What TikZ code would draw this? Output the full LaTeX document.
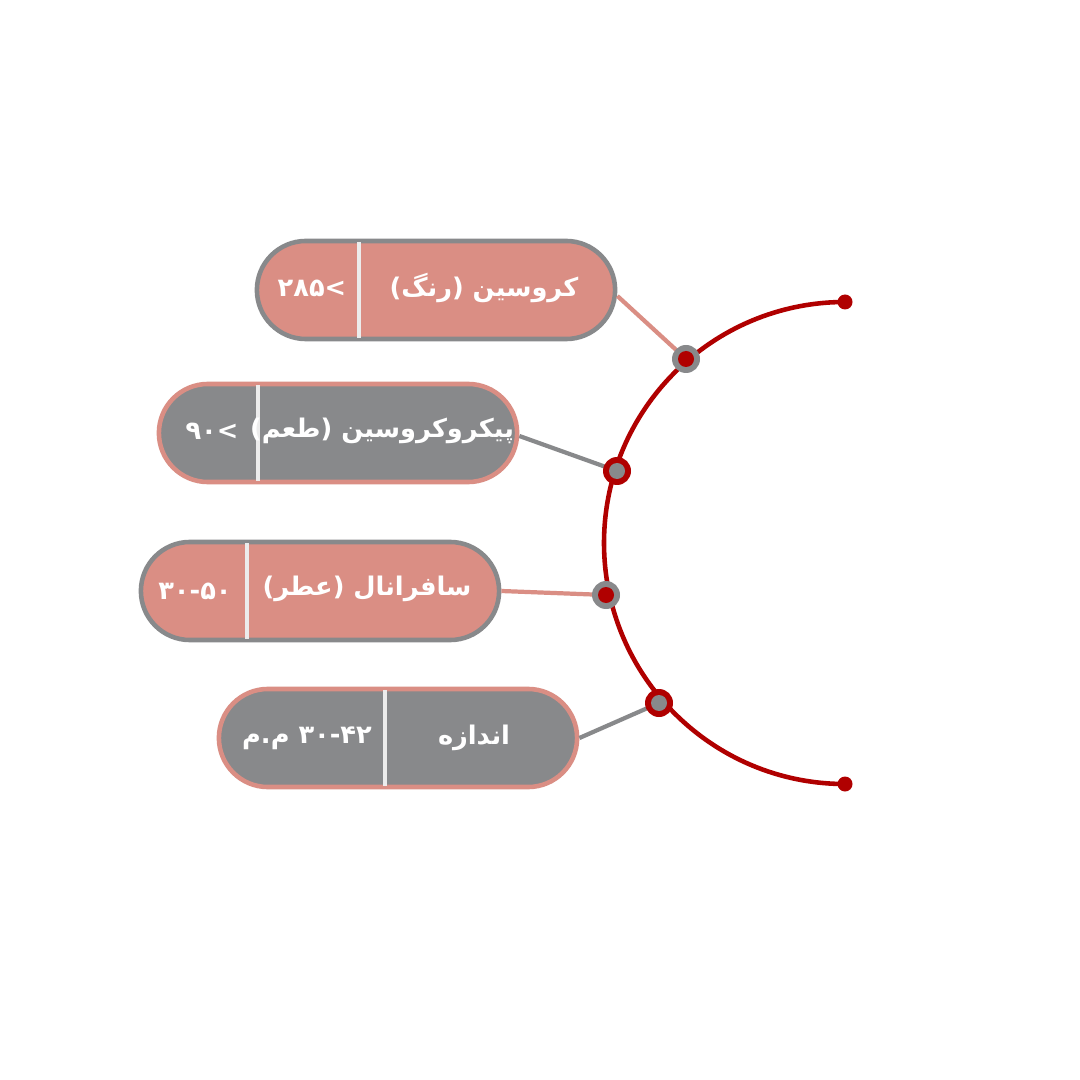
\documentclass[tikz,border=0pt]{standalone}
\usepackage{fontspec}
\newfontfamily\af[Script=Arabic]{DejaVu Sans}
\TeXXeTstate=1
\usetikzlibrary{positioning}
\definecolor{salmon}{HTML}{DA8E84}
\definecolor{slate}{HTML}{88898B}
\definecolor{crimson}{HTML}{B00000}
\begin{document}
\begin{tikzpicture}
    [x=0.01cm,y=-0.01cm,
     pill/.style={rounded corners=0.49cm,minimum width=3.58cm,minimum height=0.98cm,line width=1.3pt,inner sep=0pt},
     txt/.style={text=white,font=\af\bfseries\fontsize{7.3}{9}\selectfont},
     link/.style={line width=1.2pt}]
    \useasboundingbox[fill=white] (0,0) rectangle (1080,1080);

    % arc
    \draw[crimson,line width=1.3pt] (845,302) arc[start angle=-90,end angle=-270,radius=241];
    \fill[crimson] (845,302) circle[radius=7.5] (845,784) circle[radius=7.5];

    % pills
    \node[pill,fill=salmon,draw=slate] (p1) at (436,290) {};
    \node[pill,fill=slate,draw=salmon] (p2) at (338,433) {};
    \node[pill,fill=salmon,draw=slate] (p3) at (320,591) {};
    \node[pill,fill=slate,draw=salmon] (p4) at (398,738) {};
    \draw[white!85!gray,line width=1.3pt] (359,242) -- (359,338) (258,385) -- (258,481)
        (247,543) -- (247,639) (385,690) -- (385,786);

    \node[txt] (l1) at (484,288) {\beginR کروسین (رنگ)\endR};
    \node[txt] (v1) at (312,288) {\beginL >۲۸۵\endL};
    \node[txt] (l2) at (382,431) {\beginR پیکروکروسین (طعم)\endR};
    \node[txt] (v2) at (212,431) {\beginL >۹۰\endL};
    \node[txt] (l3) at (367,589) {\beginR سافرانال (عطر)\endR};
    \node[txt] (v3) at (195,591) {\beginL ۳۰-۵۰\endL};
    \node[txt] (l4) at (474,738) {\beginR اندازه\endR};
    \node[txt] (v4) at (307,738) {\beginL\beginR م.م\endR{} ۳۰-۴۲\endL};

    % markers on the arc
    \coordinate (m1) at (686,359);
    \coordinate (m2) at (617,471);
    \coordinate (m3) at (606,595);
    \coordinate (m4) at (659,703);
    \draw[link,salmon] (p1.east) ++(0,6) -- (m1);
    \draw[link,slate] (p2.east) ++(0,3) -- (m2);
    \draw[link,salmon] (p3.east) -- (m3);
    \draw[link,slate] (p4.east) -- (m4);
    \fill[slate] (m1) circle[radius=14]; \fill[crimson] (m1) circle[radius=8];
    \fill[crimson] (m2) circle[radius=14]; \fill[slate] (m2) circle[radius=8];
    \fill[slate] (m3) circle[radius=14]; \fill[crimson] (m3) circle[radius=8];
    \fill[crimson] (m4) circle[radius=14]; \fill[slate] (m4) circle[radius=8];
\end{tikzpicture}
\end{document}
